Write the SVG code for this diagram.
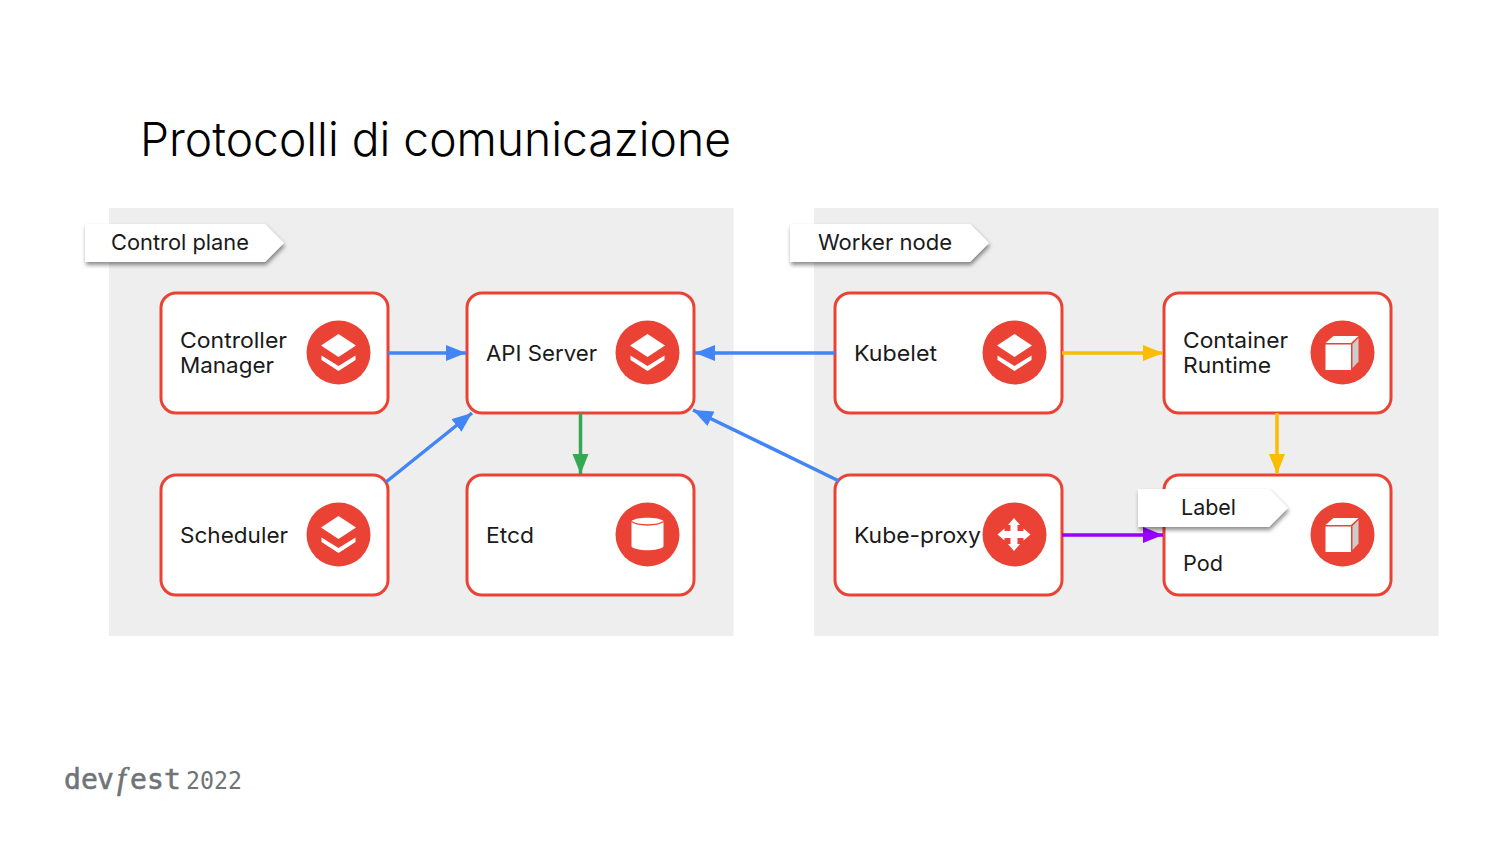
<svg xmlns="http://www.w3.org/2000/svg" width="1500" height="844" viewBox="0 0 1500 844">
<style>
text{font-family:"Inter","Liberation Sans",sans-serif;fill:#1a1a1a}
.t{font-size:22px}
.box{fill:#fff;stroke:#ea4335;stroke-width:3}
.c{fill:#ea4335}
.w{fill:#fff}
.conn{fill:none;stroke-width:3.500}
.tag{fill:#fff;filter:url(#sh)}
.logo{font-family:"DejaVu Sans Mono","Liberation Mono",monospace;fill:#6f7478}
</style>
<defs>
<filter id="sh" x="-10%" y="-20%" width="125%" height="160%"><feDropShadow dx="1" dy="3" stdDeviation="2" flood-color="#000" flood-opacity=".45"/></filter>
<marker id="b" markerUnits="userSpaceOnUse" markerWidth="22" markerHeight="18" refX="20" refY="8" orient="auto"><path d="M0 0L20 8L0 16z" fill="#4285f4"/></marker>
<marker id="y" markerUnits="userSpaceOnUse" markerWidth="22" markerHeight="18" refX="20" refY="8" orient="auto"><path d="M0 0L20 8L0 16z" fill="#fbbc04"/></marker>
<marker id="g" markerUnits="userSpaceOnUse" markerWidth="22" markerHeight="18" refX="20" refY="8" orient="auto"><path d="M0 0L20 8L0 16z" fill="#34a853"/></marker>
<marker id="p" markerUnits="userSpaceOnUse" markerWidth="22" markerHeight="18" refX="20" refY="8" orient="auto"><path d="M0 0L20 8L0 16z" fill="#9900ff"/></marker>
<g id="layers"><path class="w" d="M0-18.500L17.500-7L0 4.500L-17.500-7z"/><path class="w" d="M-17 3L0 13.500L17 3V7.500L0 18.500L-17 7.500z"/></g>
<g id="cube"><path class="w" d="M-17-8H8.500V17.500H-17z"/><path class="w" d="M-17-9.500L-9-16.500H16L8.500-9.500z"/><path d="M10-8.500L16-14.500V9L10 15.500z" fill="#ccc"/></g>
</defs>
<text x="140" y="156" font-size="47" font-weight="300" style="fill:#000" textLength="591" lengthAdjust="spacingAndGlyphs">Protocolli di comunicazione</text>
<rect x="109" y="208" width="624.500" height="428" fill="#eeeeee"/>
<rect x="814" y="208" width="624.500" height="428" fill="#eeeeee"/>

<g id="controller"><rect class="box" x="161" y="293" width="227" height="120" rx="15"/><text class="t" x="180" y="348" textLength="107" lengthAdjust="spacingAndGlyphs">Controller</text><text class="t" x="180" y="373" textLength="94" lengthAdjust="spacingAndGlyphs">Manager</text><circle class="c" cx="338.500" cy="352.500" r="32"/><use href="#layers" x="338.500" y="352.500"/></g>
<g id="api"><rect class="box" x="467" y="293" width="227" height="120" rx="15"/><text class="t" x="486" y="361" textLength="111" lengthAdjust="spacingAndGlyphs">API Server</text><circle class="c" cx="647.500" cy="352.500" r="32"/><use href="#layers" x="647.500" y="352.500"/></g>
<g id="scheduler"><rect class="box" x="161" y="475" width="227" height="120" rx="15"/><text class="t" x="180" y="543" textLength="108" lengthAdjust="spacingAndGlyphs">Scheduler</text><circle class="c" cx="338.500" cy="534.500" r="32"/><use href="#layers" x="338.500" y="534.500"/></g>
<g id="etcd"><rect class="box" x="467" y="475" width="227" height="120" rx="15"/><text class="t" x="486" y="543" textLength="48" lengthAdjust="spacingAndGlyphs">Etcd</text><circle class="c" cx="647.500" cy="534.500" r="32"/><path class="w" d="M631.500 521C636 516.500 659 516.500 663.500 521V546.500C659 551.500 636 551.500 631.500 546.500z"/><path d="M631.500 521.500C638 526 657 526 663.500 521.500" fill="none" stroke="#ea4335" stroke-width="1.500"/></g>
<g id="kubelet"><rect class="box" x="835" y="293" width="227" height="120" rx="15"/><text class="t" x="854" y="361" textLength="83" lengthAdjust="spacingAndGlyphs">Kubelet</text><circle class="c" cx="1014.500" cy="352.500" r="32"/><use href="#layers" x="1014.500" y="352.500"/></g>
<g id="runtime"><rect class="box" x="1164" y="293" width="227" height="120" rx="15"/><text class="t" x="1183" y="348" textLength="105" lengthAdjust="spacingAndGlyphs">Container</text><text class="t" x="1183" y="373" textLength="88" lengthAdjust="spacingAndGlyphs">Runtime</text><circle class="c" cx="1342.500" cy="352.500" r="32"/><use href="#cube" x="1342.500" y="352.500"/></g>
<g id="proxy"><rect class="box" x="835" y="475" width="227" height="120" rx="15"/><text class="t" x="854" y="543" textLength="127" lengthAdjust="spacingAndGlyphs">Kube-proxy</text><circle class="c" cx="1014.500" cy="534.500" r="32"/><path class="w" d="M1014 518L1020 525H1017.500V531H1023.500V528.500L1030.500 534.500L1023.500 540.500V538H1017.500V544H1020L1014 551L1008 544H1010.500V538H1004.500V540.500L997.500 534.500L1004.500 528.500V531H1010.500V525H1008z"/></g>
<g id="pod"><rect class="box" x="1164" y="475" width="227" height="120" rx="15"/><text class="t" x="1183" y="571" textLength="40" lengthAdjust="spacingAndGlyphs">Pod</text><circle class="c" cx="1342.500" cy="534.500" r="32"/><use href="#cube" x="1342.500" y="534.500"/></g>

<g id="connectors">
<path class="conn" stroke="#4285f4" d="M388 353H466" marker-end="url(#b)"/>
<path class="conn" stroke="#4285f4" d="M386 482L472 413" marker-end="url(#b)"/>
<path class="conn" stroke="#34a853" d="M580.500 413V474" marker-end="url(#g)"/>
<path class="conn" stroke="#4285f4" d="M835 353H695" marker-end="url(#b)"/>
<path class="conn" stroke="#4285f4" d="M839 481L693 410" marker-end="url(#b)"/>
<path class="conn" stroke="#fbbc04" d="M1062 353H1163" marker-end="url(#y)"/>
<path class="conn" stroke="#fbbc04" d="M1277 413V474" marker-end="url(#y)"/>
<path class="conn" stroke="#9900ff" d="M1062 535H1163" marker-end="url(#p)"/>
</g>

<g id="tag-control"><path class="tag" d="M85 224H265L284 243L265 262H85z"/><text class="t" x="111" y="250" textLength="138" lengthAdjust="spacingAndGlyphs">Control plane</text></g>
<g id="tag-worker"><path class="tag" d="M790 224H970L989 243L970 262H790z"/><text class="t" x="818" y="250" textLength="134" lengthAdjust="spacingAndGlyphs">Worker node</text></g>
<g id="tag-label"><path class="tag" d="M1138 489H1269L1288 508L1269 527H1138z"/><text class="t" x="1181" y="515" textLength="55" lengthAdjust="spacingAndGlyphs">Label</text></g>

<g id="logo"><text class="logo" y="789" font-size="28" x="64 81 97 117 130 147 164" stroke="#6f7478" stroke-width=".6">dev<tspan font-size="32" font-style="italic" style="font-family:'Liberation Serif',serif">f</tspan>est</text><text class="logo" x="186" y="789" font-size="24" textLength="56" lengthAdjust="spacingAndGlyphs">2022</text></g>
</svg>
